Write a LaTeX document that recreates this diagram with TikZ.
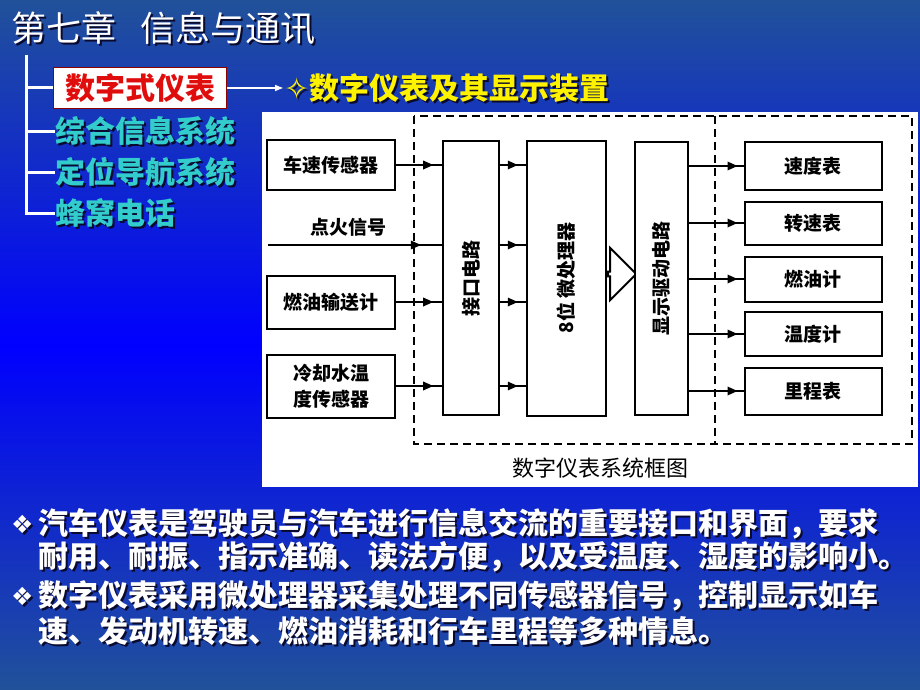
\documentclass[tikz,border=0pt]{standalone}
\usepackage{fontspec}
\setmainfont{Noto Sans CJK SC}
\newfontfamily\symfont{DejaVu Sans}
\usepackage{tikz}
\usetikzlibrary{arrows.meta}
\usetikzlibrary{shapes.arrows}
\usetikzlibrary{decorations.markings}
\usetikzlibrary{positioning}
\definecolor{bgtop}{rgb}{0.13,0.32,0.60}
\definecolor{bgmid}{rgb}{0.0,0.0,1.0}
\definecolor{menuteal}{rgb}{0.2,0.8,0.8}
\definecolor{boxred}{rgb}{0.88,0.05,0.05}
\definecolor{shadowc}{rgb}{0.04,0.04,0.18}

% text with a dark copy behind it
\newcommand{\shadtext}[4]{%
	\node[#3,text=shadowc,xshift=2pt,yshift=-2pt] at (#1) {#4};
	\node[#3] (#2) at (#1) {#4};}

\begin{document}
\begin{tikzpicture}[x=1pt,y=-1pt,
	box/.style={draw,line width=2pt,fill=white,inner sep=0pt,align=center,
		font=\fontsize{19}{26}\selectfont\bfseries},
	wire/.style={line width=1.8pt,postaction={decorate},
		decoration={markings,mark=at position #1 with {\fill (-5pt,-4.5pt) -- (5pt,0pt) -- (-5pt,4.5pt) -- cycle;}}},
	wire/.default=0.7,
	frame/.style={line width=1.6pt,dash pattern=on 8pt off 5pt},
	chapter/.style={anchor=west,inner sep=0pt,text=white,font=\fontsize{35}{40}\selectfont},
	menu/.style={anchor=west,inner sep=0pt,text=menuteal,font=\fontsize{30}{36}\selectfont\bfseries},
	body/.style={anchor=west,inner sep=0pt,text=white,font=\fontsize{30}{36}\selectfont\bfseries},
	bullet/.style={anchor=west,inner sep=0pt,text=white,font=\symfont\fontsize{25}{30}\selectfont},
	branch/.style={white,line width=3pt}]
	\useasboundingbox (0,0) rectangle (920,690);
	\shade[top color=bgtop,bottom color=bgtop,middle color=bgmid] (0,0) rectangle (920,690);

	% heading and menu
	\shadtext{11,28}{chap}{chapter}{第七章\hspace{0.7em}信息与通讯}
	\node[draw=red!55!black,line width=1.5pt,fill=white,minimum width=173pt,minimum height=41pt,
		inner sep=0pt,text=boxred,font=\fontsize{30}{36}\selectfont\bfseries] (digi) at (140,88) {数字式仪表};
	\shadtext{284,88}{sub}{menu,text=yellow}{{\symfont ✧}数字仪表及其显示装置}
	\shadtext{55,131}{zh}{menu}{综合信息系统}
	\shadtext{55,172}{dw}{menu}{定位导航系统}
	\shadtext{55,213}{fw}{menu}{蜂窝电话}
	\coordinate (trunk) at (26,55);
	\draw[branch] (trunk) |- (digi.west);
	\draw[branch] (trunk) |- (zh.west);
	\draw[branch] (trunk) |- (dw.west);
	\draw[branch] (trunk) |- (fw.west);
	\draw[white,line width=2pt,-{Latex[length=9pt,width=7pt]}] (digi.east) -- (sub.west);

	% block diagram
	\fill[white] (262,112) rectangle (918,487);
	\draw[frame] (414,116) rectangle (912,444);
	\draw[frame] (715,116) -- (715,444);

	\node[box,minimum width=128pt,minimum height=50pt] (spd) at (331,165) {车速传感器};
	\node[font=\fontsize{19}{22}\selectfont\bfseries] (ignl) at (348,227) {点火信号};
	\coordinate (ign) at (268,245);
	\node[box,minimum width=128pt,minimum height=53pt] (fuel) at (331,302) {燃油输送计};
	\node[box,minimum width=128pt,minimum height=63pt] (cool) at (331,386) {冷却水温\\度传感器};

	\node[box,minimum width=56pt,minimum height=274pt] (intf) at (471,278) {\rotatebox{90}{接口电路}};
	\node[box,minimum width=79pt,minimum height=275pt] (cpu) at (566,278) {\rotatebox{90}{8位\ 微处理器}};
	\node[single arrow,draw,line width=2pt,fill=white,inner sep=0pt,minimum width=52pt,
		minimum height=28pt,single arrow head extend=10pt] (bus) at (621,274) {};
	\node[box,minimum width=53pt,minimum height=273pt] (drv) at (661,278) {\rotatebox{90}{显示驱动电路}};

	\node[box,minimum width=137pt,minimum height=48pt] (g1) at (813,166) {速度表};
	\node[box,minimum width=137pt,minimum height=43pt] (g2) at (813,223) {转速表};
	\node[box,minimum width=137pt,minimum height=45pt] (g3) at (813,279) {燃油计};
	\node[box,minimum width=137pt,minimum height=44pt] (g4) at (813,334) {温度计};
	\node[box,minimum width=137pt,minimum height=47pt] (g5) at (813,391) {里程表};

	\draw[wire] (spd.east) -- (spd.east -| intf.west);
	\draw[wire=0.85] (ign) -- (ign -| intf.west);
	\draw[wire] (fuel.east) -- (fuel.east -| intf.west);
	\draw[wire] (cool.east) -- (cool.east -| intf.west);
	\draw[wire=0.5] (intf.east |- spd.east) -- (cpu.west |- spd.east);
	\draw[wire=0.5] (intf.east |- ign) -- (cpu.west |- ign);
	\draw[wire=0.5] (intf.east |- fuel.east) -- (cpu.west |- fuel.east);
	\draw[wire=0.5] (intf.east |- cool.east) -- (cpu.west |- cool.east);
	\draw[wire=0.8] (drv.east |- g1) -- (g1.west);
	\draw[wire=0.8] (drv.east |- g2) -- (g2.west);
	\draw[wire=0.8] (drv.east |- g3) -- (g3.west);
	\draw[wire=0.8] (drv.east |- g4) -- (g4.west);
	\draw[wire=0.8] (drv.east |- g5) -- (g5.west);
	\node[font=\fontsize{22}{26}\selectfont] (cap) at (600,468) {数字仪表系统框图};

	% notes
	\shadtext{11,524}{b1}{bullet}{❖}
	\shadtext{38,524}{l1}{body}{汽车仪表是驾驶员与汽车进行信息交流的重要接口和界面，要求}
	\shadtext{38,557}{l2}{body}{耐用、耐振、指示准确、读法方便，以及受温度、湿度的影响小。}
	\shadtext{11,596}{b2}{bullet}{❖}
	\shadtext{38,596}{l3}{body}{数字仪表采用微处理器采集处理不同传感器信号，控制显示如车}
	\shadtext{38,631}{l4}{body}{速、发动机转速、燃油消耗和行车里程等多种情息。}
\end{tikzpicture}
\end{document}
